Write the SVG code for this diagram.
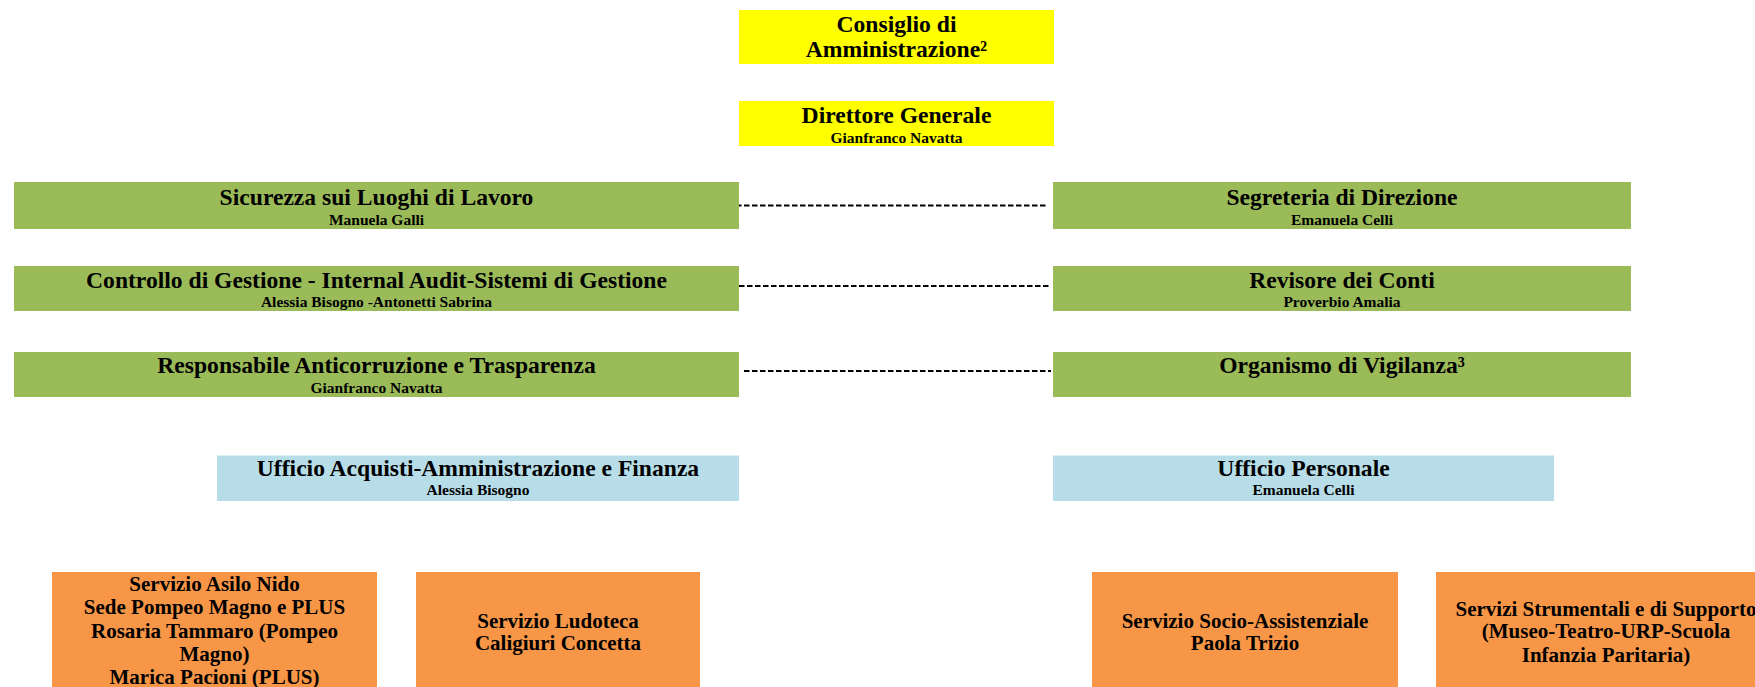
<svg xmlns="http://www.w3.org/2000/svg" width="1755" height="687" viewBox="0 0 1755 687">
<style>
  text { font-family: "Liberation Serif", "Times New Roman", serif; font-weight: bold; fill: #000; text-anchor: middle; }
  .t { font-size: 23.6px; }
  .n { font-size: 15.5px; }
  .o { font-size: 21px; }
  .yel { fill: #FFFF00; }
  .grn { fill: #9BBB59; }
  .blu { fill: #B7DDE8; }
  .org { fill: #F79646; }
  .dash { stroke: #000; stroke-width: 2; stroke-dasharray: 5.5 2.5; fill: none; }
</style>
<rect width="1755" height="687" fill="#fff"/>
<g id="connectors">
  <line class="dash" x1="736" y1="205.5" x2="1047" y2="205.5"/>
  <line class="dash" x1="739" y1="286" x2="1049" y2="286"/>
  <line class="dash" x1="744" y1="371" x2="1051" y2="371"/>
</g>
<g id="consiglio">
  <rect class="yel" x="739" y="10" width="315" height="54"/>
  <text class="t" x="896.5" y="32">Consiglio di</text>
  <text class="t" x="896.5" y="57">Amministrazione²</text>
</g>
<g id="direttore">
  <rect class="yel" x="739" y="101" width="315" height="45"/>
  <text class="t" x="896.5" y="122.5">Direttore Generale</text>
  <text class="n" x="896.5" y="142.5">Gianfranco Navatta</text>
</g>
<g id="sicurezza">
  <rect class="grn" x="14" y="182" width="725" height="47"/>
  <text class="t" x="376.5" y="205">Sicurezza sui Luoghi di Lavoro</text>
  <text class="n" x="376.5" y="224.5">Manuela Galli</text>
</g>
<g id="controllo">
  <rect class="grn" x="14" y="266" width="725" height="45"/>
  <text class="t" x="376.5" y="288">Controllo di Gestione - Internal Audit-Sistemi di Gestione</text>
  <text class="n" x="376.5" y="306.5">Alessia Bisogno -Antonetti Sabrina</text>
</g>
<g id="anticorruzione">
  <rect class="grn" x="14" y="352" width="725" height="45"/>
  <text class="t" x="376.5" y="373">Responsabile Anticorruzione e Trasparenza</text>
  <text class="n" x="376.5" y="392.5">Gianfranco Navatta</text>
</g>
<g id="segreteria">
  <rect class="grn" x="1053" y="182" width="578" height="47"/>
  <text class="t" x="1342" y="205">Segreteria di Direzione</text>
  <text class="n" x="1342" y="224.5">Emanuela Celli</text>
</g>
<g id="revisore">
  <rect class="grn" x="1053" y="266" width="578" height="45"/>
  <text class="t" x="1342" y="288">Revisore dei Conti</text>
  <text class="n" x="1342" y="306.5">Proverbio Amalia</text>
</g>
<g id="vigilanza">
  <rect class="grn" x="1053" y="352" width="578" height="45"/>
  <text class="t" x="1342" y="373">Organismo di Vigilanza³</text>
</g>
<g id="acquisti">
  <rect class="blu" x="217" y="455.5" width="522" height="45.5"/>
  <text class="t" x="478" y="476">Ufficio Acquisti-Amministrazione e Finanza</text>
  <text class="n" x="478" y="494.5">Alessia Bisogno</text>
</g>
<g id="personale">
  <rect class="blu" x="1053" y="455.5" width="501" height="45.5"/>
  <text class="t" x="1303.5" y="476">Ufficio Personale</text>
  <text class="n" x="1303.5" y="494.5">Emanuela Celli</text>
</g>
<g id="asilo">
  <rect class="org" x="52" y="572" width="325" height="120"/>
  <text class="o" x="214.5" y="590.5">Servizio Asilo Nido</text>
  <text class="o" x="214.5" y="613.8">Sede Pompeo Magno e PLUS</text>
  <text class="o" x="214.5" y="637.5">Rosaria Tammaro (Pompeo</text>
  <text class="o" x="214.5" y="661">Magno)</text>
  <text class="o" x="214.5" y="684">Marica Pacioni (PLUS)</text>
</g>
<g id="ludoteca">
  <rect class="org" x="416" y="572" width="284" height="120"/>
  <text class="o" x="558" y="627.5">Servizio Ludoteca</text>
  <text class="o" x="558" y="650">Caligiuri Concetta</text>
</g>
<g id="socio">
  <rect class="org" x="1092" y="572" width="306" height="120"/>
  <text class="o" x="1245" y="627.5">Servizio Socio-Assistenziale</text>
  <text class="o" x="1245" y="650">Paola Trizio</text>
</g>
<g id="strumentali">
  <rect class="org" x="1436" y="572" width="340" height="120"/>
  <text class="o" x="1606" y="615.5">Servizi Strumentali e di Supporto</text>
  <text class="o" x="1606" y="638">(Museo-Teatro-URP-Scuola</text>
  <text class="o" x="1606" y="661.5">Infanzia Paritaria)</text>
</g>
</svg>
